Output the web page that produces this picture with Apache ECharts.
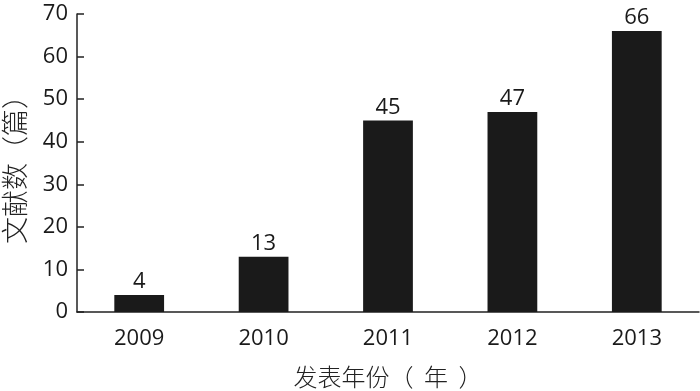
<!DOCTYPE html>
<html><head><meta charset="utf-8">
<script src="https://cdn.jsdelivr.net/npm/echarts@6/dist/echarts.min.js"></script>
<style>html,body{margin:0;padding:0;background:#fff}#c{width:700px;height:391px}</style>
</head><body><div id="c"></div>
<script>
const categories = ['2009','2010','2011','2012','2013'];
const values = [4, 13, 45, 47, 66];
const yTicks = [0,10,20,30,40,50,60,70];
const xName = '发表年份（  年  ）';
const yName = '文献数（篇）';

const chart = echarts.init(document.getElementById('c'), null, {renderer:'canvas'});
const numFont = 'Open Sans';
const cjkFont = 'Noto Sans CJK SC';
chart.setOption({
  animation:false,
  grid:{left:77, right:1, top:14, bottom:79, containLabel:false, outerBoundsMode:'none'},
  xAxis:{
    type:'category', data:categories,
    name:xName, nameLocation:'middle', nameGap:53,
    nameTextStyle:{fontFamily:cjkFont, fontSize:24, color:'#222', fontWeight:300},
    axisLine:{lineStyle:{color:'#222', width:1.5}},
    axisTick:{inside:true, length:6, lineStyle:{color:'#222', width:1.5}},
    axisLabel:{fontFamily:numFont, fontSize:22, color:'#1a1a1a', margin:16}
  },
  yAxis:{
    type:'value', min:0, max:70, interval:10,
    name:yName, nameLocation:'middle', nameGap:49, nameRotate:90,
    nameTextStyle:{fontFamily:cjkFont, fontSize:27, color:'#222', fontWeight:300},
    axisLine:{show:true, lineStyle:{color:'#222', width:1.5}},
    axisTick:{show:true, inside:true, length:7, lineStyle:{color:'#222', width:1.5}},
    axisLabel:{fontFamily:numFont, fontSize:22, color:'#1a1a1a', margin:9},
    splitLine:{show:false}
  },
  series:[{
    type:'bar', data:values, barWidth:'40%',
    itemStyle:{color:'#1a1a1a'},
    label:{show:true, position:'top', distance:2, fontFamily:numFont, fontSize:22, color:'#1a1a1a'}
  }]
});
</script></body></html>
